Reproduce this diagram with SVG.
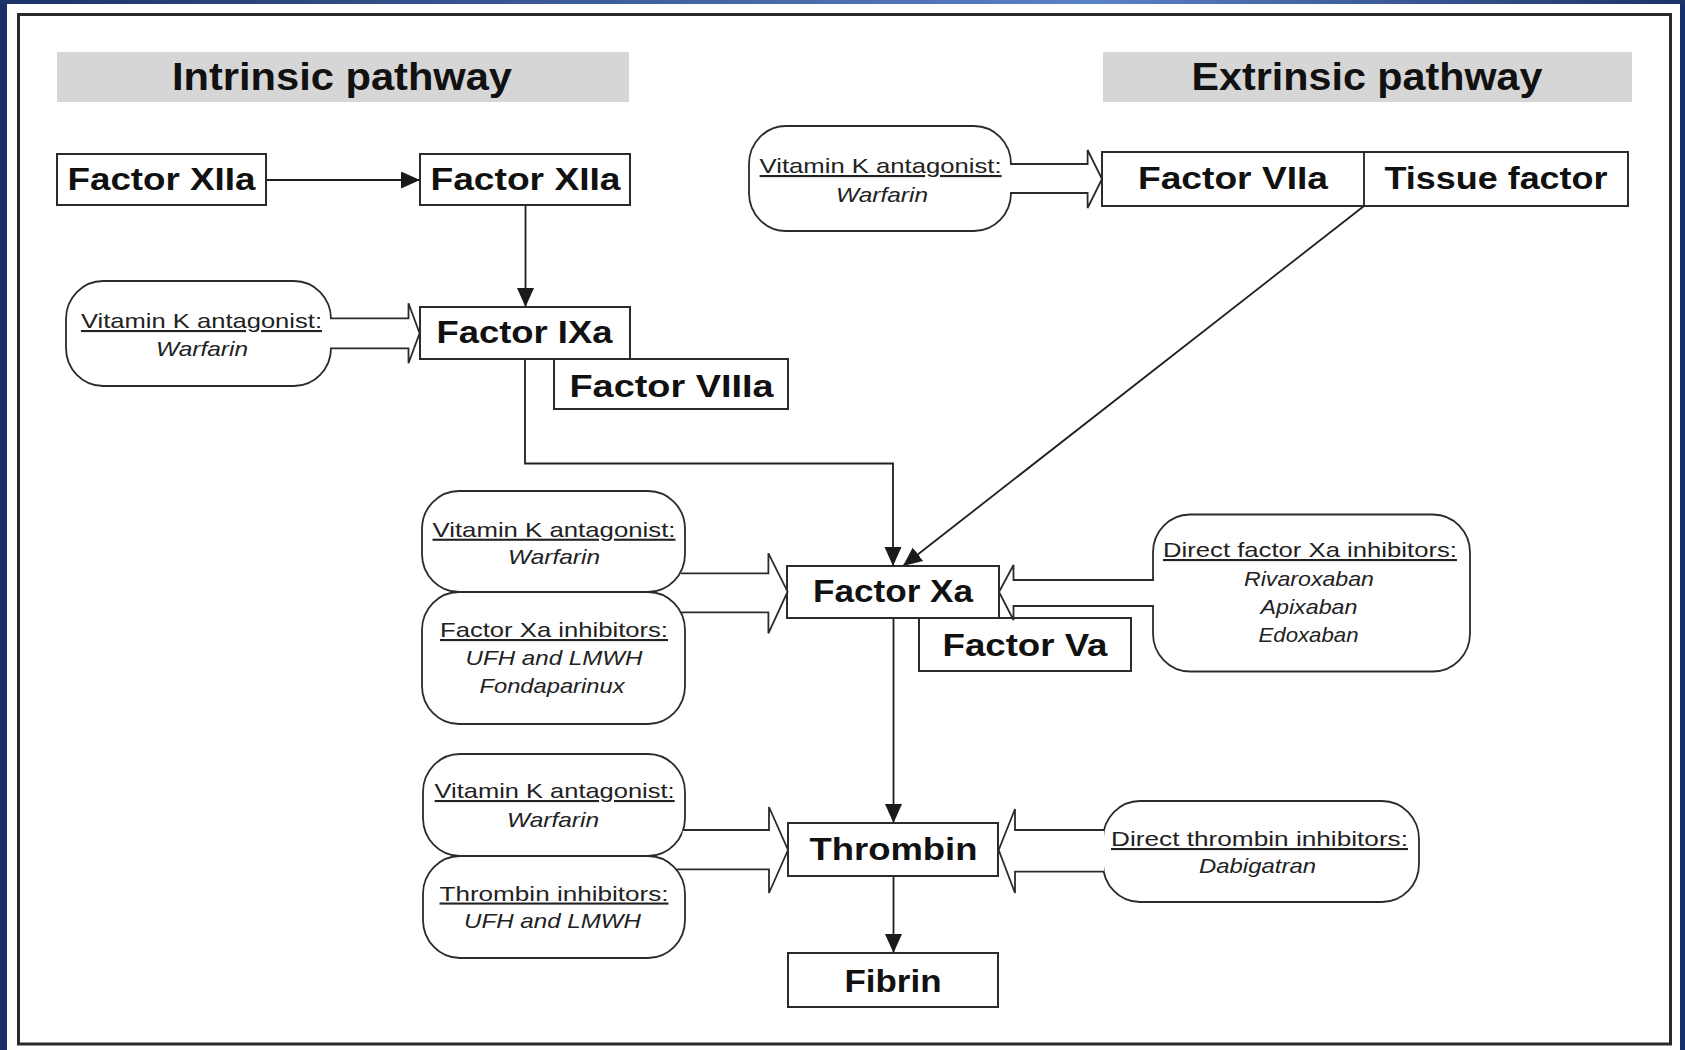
<svg xmlns="http://www.w3.org/2000/svg" width="1685" height="1050" viewBox="0 0 1685 1050">
<defs>
<linearGradient id="topbar" x1="0" y1="0" x2="1" y2="0">
<stop offset="0" stop-color="#1b3366"/>
<stop offset="0.65" stop-color="#5a80c6"/>
<stop offset="1" stop-color="#1b3366"/>
</linearGradient>
<marker id="ah" markerUnits="userSpaceOnUse" markerWidth="20" markerHeight="18" refX="19" refY="8.5" orient="auto">
<path d="M0,0 L19,8.5 L0,17 Z" fill="#1a1a1a"/>
</marker>
<style>
.box{fill:#fff;stroke:#2b2b2b;stroke-width:2}
.pill{fill:#fff;stroke:#2b2b2b;stroke-width:1.8}
.band{fill:#d6d6d6}
.ttl{font-family:"Liberation Sans",Arial,sans-serif;font-weight:bold;font-size:38px;fill:#111;text-anchor:middle}
.lbl{font-family:"Liberation Sans",Arial,sans-serif;font-weight:bold;font-size:32px;fill:#111;text-anchor:middle}
.hd{font-family:"Liberation Sans",Arial,sans-serif;font-size:21px;fill:#222;text-anchor:middle;text-decoration:underline}
.it{font-family:"Liberation Sans",Arial,sans-serif;font-size:21px;font-style:italic;fill:#222;text-anchor:middle}
.ln{fill:none;stroke:#1f1f1f;stroke-width:1.8}
.blk{fill:#fff;stroke:#2b2b2b;stroke-width:1.8;stroke-linejoin:miter}
</style>
</defs>

<g id="background">
<rect x="0" y="0" width="1685" height="1050" fill="#17306a"/>
<rect x="7" y="4" width="1673" height="1046" fill="#fff"/>
<rect x="0" y="0" width="1685" height="4" fill="url(#topbar)"/>
<rect x="18.5" y="14.5" width="1652" height="1029.5" fill="none" stroke="#2a2a2a" stroke-width="3"/>
</g>

<g id="title-intrinsic">
<rect class="band" x="57" y="52" width="572" height="50"/>
<text class="ttl" x="342" y="89.5" textLength="340" lengthAdjust="spacingAndGlyphs">Intrinsic pathway</text>
</g>
<g id="title-extrinsic">
<rect class="band" x="1103" y="52" width="529" height="50"/>
<text class="ttl" x="1367" y="89.5" textLength="351" lengthAdjust="spacingAndGlyphs">Extrinsic pathway</text>
</g>

<g id="connectors">
<line class="ln" x1="266" y1="180" x2="420" y2="180" marker-end="url(#ah)"/>
<line class="ln" x1="525.5" y1="205" x2="525.5" y2="307" marker-end="url(#ah)"/>
<polyline class="ln" points="525,359 525,463.5 893,463.5 893,566" marker-end="url(#ah)"/>
<line class="ln" x1="1364" y1="206" x2="903" y2="566" marker-end="url(#ah)"/>
<line class="ln" x1="893.5" y1="618" x2="893.5" y2="823" marker-end="url(#ah)"/>
<line class="ln" x1="893.5" y1="876" x2="893.5" y2="953" marker-end="url(#ah)"/>
</g>

<g id="node-factor-xiia-1">
<rect class="box" x="57" y="154" width="209" height="51"/>
<text class="lbl" x="161.5" y="189.5" textLength="188" lengthAdjust="spacingAndGlyphs">Factor XIIa</text>
</g>
<g id="node-factor-xiia-2">
<rect class="box" x="420" y="154" width="210" height="51"/>
<text class="lbl" x="525.5" y="189.5" textLength="190" lengthAdjust="spacingAndGlyphs">Factor XIIa</text>
</g>
<g id="node-factor-ixa">
<rect class="box" x="420" y="307" width="210" height="52"/>
<text class="lbl" x="524.5" y="343" textLength="176" lengthAdjust="spacingAndGlyphs">Factor IXa</text>
</g>
<g id="node-factor-viiia">
<rect class="box" x="554" y="359" width="234" height="50"/>
<text class="lbl" x="671.5" y="397" textLength="204" lengthAdjust="spacingAndGlyphs">Factor VIIIa</text>
</g>
<g id="node-factor-viia-tissue-factor">
<rect class="box" x="1102" y="152" width="526" height="54"/>
<line class="ln" x1="1364" y1="152" x2="1364" y2="206"/>
<text class="lbl" x="1233" y="189" textLength="190" lengthAdjust="spacingAndGlyphs">Factor VIIa</text>
<text class="lbl" x="1496" y="189" textLength="223" lengthAdjust="spacingAndGlyphs">Tissue factor</text>
</g>
<g id="node-factor-xa">
<rect class="box" x="787" y="566" width="212" height="52"/>
<text class="lbl" x="893" y="601.5" textLength="160" lengthAdjust="spacingAndGlyphs">Factor Xa</text>
</g>
<g id="node-factor-va">
<rect class="box" x="919" y="618" width="212" height="53"/>
<text class="lbl" x="1025" y="655.5" textLength="165" lengthAdjust="spacingAndGlyphs">Factor Va</text>
</g>
<g id="node-thrombin">
<rect class="box" x="788" y="823" width="210" height="53"/>
<text class="lbl" x="893.5" y="860" textLength="168" lengthAdjust="spacingAndGlyphs">Thrombin</text>
</g>
<g id="node-fibrin">
<rect class="box" x="788" y="953" width="210" height="54"/>
<text class="lbl" x="893" y="991.5" textLength="97" lengthAdjust="spacingAndGlyphs">Fibrin</text>
</g>

<g id="pill-vka-ixa">
<rect class="pill" x="66" y="281" width="265" height="105" rx="37" ry="38"/>
<path class="blk" d="M330,318.3 L408.5,318.3 L408.5,303.3 L419.6,333.3 L408.5,363.3 L408.5,348.3 L330,348.3"/>
<text class="hd" x="201.5" y="328" textLength="241" lengthAdjust="spacingAndGlyphs">Vitamin K antagonist:</text>
<text class="it" x="202" y="356" textLength="92" lengthAdjust="spacingAndGlyphs">Warfarin</text>
</g>

<g id="pill-vka-viia">
<rect class="pill" x="749" y="126" width="262" height="105" rx="37" ry="38"/>
<path class="blk" d="M1010,164 L1087.6,164 L1087.6,150 L1102,179 L1087.6,208 L1087.6,193 L1010,193"/>
<text class="hd" x="880.6" y="173" textLength="242" lengthAdjust="spacingAndGlyphs">Vitamin K antagonist:</text>
<text class="it" x="882" y="201.5" textLength="92" lengthAdjust="spacingAndGlyphs">Warfarin</text>
</g>

<g id="pill-vka-xa">
<rect class="pill" x="422" y="491" width="263" height="101" rx="37" ry="38"/>
<text class="hd" x="554" y="536.7" textLength="243" lengthAdjust="spacingAndGlyphs">Vitamin K antagonist:</text>
<text class="it" x="554" y="564" textLength="92" lengthAdjust="spacingAndGlyphs">Warfarin</text>
</g>
<g id="pill-xa-inhibitors">
<rect class="pill" x="422" y="592" width="263" height="132" rx="37" ry="38"/>
<text class="hd" x="554" y="637" textLength="228" lengthAdjust="spacingAndGlyphs">Factor Xa inhibitors:</text>
<text class="it" x="554" y="665" textLength="177" lengthAdjust="spacingAndGlyphs">UFH and LMWH</text>
<text class="it" x="552" y="693" textLength="145" lengthAdjust="spacingAndGlyphs">Fondaparinux</text>
</g>
<g id="block-arrow-xa-left">
<path class="blk" d="M681,573.3 L768.4,573.3 L768.4,553.3 L787.6,591.7 L768.4,633.3 L768.4,612.3 L681,612.3"/>
</g>

<g id="pill-direct-xa">
<rect class="pill" x="1153" y="514.5" width="317" height="157" rx="37" ry="38"/>
<path class="blk" d="M1154,580 L1013.5,580 L1013.5,565 L999,592 L1013.5,620 L1013.5,606 L1154,606"/>
<text class="hd" x="1310" y="557" textLength="294" lengthAdjust="spacingAndGlyphs">Direct factor Xa inhibitors:</text>
<text class="it" x="1309" y="586" textLength="130" lengthAdjust="spacingAndGlyphs">Rivaroxaban</text>
<text class="it" x="1309" y="614" textLength="97" lengthAdjust="spacingAndGlyphs">Apixaban</text>
<text class="it" x="1308.5" y="642" textLength="100" lengthAdjust="spacingAndGlyphs">Edoxaban</text>
</g>

<g id="pill-vka-thrombin">
<rect class="pill" x="423" y="754" width="262" height="102" rx="37" ry="38"/>
<text class="hd" x="554.6" y="798" textLength="240" lengthAdjust="spacingAndGlyphs">Vitamin K antagonist:</text>
<text class="it" x="553" y="826.5" textLength="92" lengthAdjust="spacingAndGlyphs">Warfarin</text>
</g>
<g id="pill-thrombin-inhibitors">
<rect class="pill" x="423" y="856" width="262" height="102" rx="37" ry="38"/>
<text class="hd" x="554" y="900.5" textLength="229" lengthAdjust="spacingAndGlyphs">Thrombin inhibitors:</text>
<text class="it" x="552.5" y="928" textLength="177" lengthAdjust="spacingAndGlyphs">UFH and LMWH</text>
</g>
<g id="block-arrow-thrombin-left">
<path class="blk" d="M683,830 L769,830 L769,807 L788,850 L769,893 L769,869.3 L677,869.3"/>
</g>

<g id="pill-direct-thrombin">
<rect class="pill" x="1103" y="801" width="316" height="101" rx="37" ry="38"/>
<path class="blk" d="M1104,830 L1015,830 L1015,809 L998.7,850 L1015,893 L1015,871.7 L1104,871.7"/>
<text class="hd" x="1259.5" y="846" textLength="297" lengthAdjust="spacingAndGlyphs">Direct thrombin inhibitors:</text>
<text class="it" x="1257.5" y="873" textLength="117" lengthAdjust="spacingAndGlyphs">Dabigatran</text>
</g>
</svg>
